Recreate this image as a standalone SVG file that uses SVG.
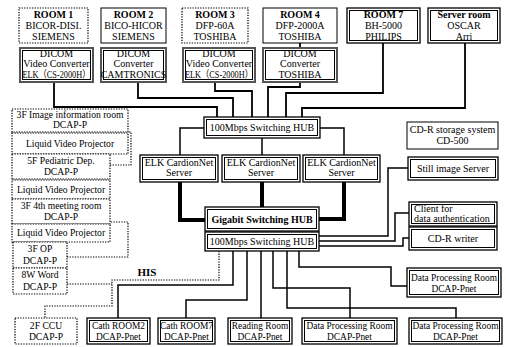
<svg xmlns="http://www.w3.org/2000/svg" width="506" height="347" viewBox="0 0 506 347">
<style>
text{font-family:"Liberation Serif","Noto Sans CJK JP",serif;font-size:10px;fill:#000;text-anchor:middle}
.b{font-weight:bold;font-size:10px}
.l{font-size:9.6px}
.m{font-size:9.4px}
.s{fill:#fff;stroke:#000;stroke-width:1}
.o{fill:#fff;stroke:#000;stroke-width:1.3}
.i{fill:none;stroke:#000;stroke-width:1}
.d{fill:#fff;stroke:#000;stroke-width:1.2;stroke-dasharray:1.3 1.3}
.c{fill:none;stroke:#000;stroke-width:1.8}
.t{fill:none;stroke:#000;stroke-width:4}
.h{fill:none;stroke:#000;stroke-width:1.2;stroke-dasharray:1.3 1.3}
</style>
<rect width="506" height="347" fill="#fff"/>
<g id="connectors">
<path class="c" d="M54,82V107H217V117M138,82V98H233V117M215,82V91H252V117M300,82V87H268V117M383,43V93H286V117M465,43V108H302V117M300,43V48"/>
<path class="c" style="stroke-width:1.5" d="M262,138V155M204,128H180V155M320,128H344V155"/>
<path class="t" d="M180,182V220H205M262,182V207M344,182V219H319"/>
<path class="c" style="stroke-width:1.5" d="M319,236H388V168H408M319,241H395V213H409M319,246H403V238H409"/>
<path class="c" style="stroke-width:1.5" d="M233,251V285H118V318M247,251V300H186V318M261,251V318M273,251V288H350V318M287,251V308H456V318M299,251V267H391V286H407"/>
<path class="h" d="M219,251V280H112V306H45V318M67,284H112M67,257H128V222H110M110,165H131V132H128"/>
</g>
<g id="room1"><rect class="d" x="19" y="8" width="69" height="35"/><text class="b" x="53.5" y="18">ROOM 1</text><text x="53.5" y="29">BICOR-DISI.</text><text x="53.5" y="40">SIEMENS</text></g>
<g id="room2"><rect class="s" x="101" y="8" width="65" height="35"/><text class="b" x="133.5" y="18">ROOM 2</text><text x="133.5" y="29">BICO-HICOR</text><text x="133.5" y="40">SIEMENS</text></g>
<g id="room3"><rect class="d" x="182" y="8" width="66" height="35"/><text class="b" x="215" y="18">ROOM 3</text><text x="215" y="29">DFP-60A</text><text x="215" y="40">TOSHIBA</text></g>
<g id="room4"><rect class="s" x="263" y="8" width="74" height="35"/><text class="b" x="300" y="18">ROOM 4</text><text x="300" y="29">DFP-2000A</text><text x="300" y="40">TOSHIBA</text></g>
<g id="room7"><rect class="o" x="347" y="8" width="73" height="35"/><rect class="i" x="349.5" y="10.5" width="68" height="30"/><text class="b" x="383.5" y="18">ROOM 7</text><text x="383.5" y="29">BH-5000</text><text x="383.5" y="40">PHILIPS</text></g>
<g id="server-room"><rect class="o" x="428" y="8" width="72" height="35"/><rect class="i" x="430.5" y="10.5" width="67" height="30"/><text class="b" x="464" y="18">Server room</text><text x="464" y="29">OSCAR</text><text x="464" y="40">Arri</text></g>
<g id="conv1"><rect class="o" x="20" y="48" width="73" height="34" style="stroke:#555;stroke-width:2"/><rect class="i" x="22.5" y="50.5" width="68" height="29"/><text x="56.5" y="57">DICOM</text><text x="56.5" y="67">Video Converter</text><text x="56.5" y="78" textLength="68" lengthAdjust="spacingAndGlyphs">ELK（CS-2000H）</text></g>
<g id="conv2"><rect class="o" x="101" y="48" width="65" height="34" style="stroke:#555;stroke-width:2"/><rect class="i" x="103.5" y="50.5" width="60" height="29"/><text x="133.5" y="57">DICOM</text><text x="133.5" y="67">Converter</text><text x="133.5" y="78">CAMTRONICS</text></g>
<g id="conv3"><rect class="o" x="183" y="48" width="72" height="34" style="stroke:#555;stroke-width:2"/><rect class="i" x="185.5" y="50.5" width="67" height="29"/><text x="219" y="57">DICOM</text><text x="219" y="67">Video Converter</text><text x="219" y="78" textLength="68" lengthAdjust="spacingAndGlyphs">ELK（CS-2000H）</text></g>
<g id="conv4"><rect class="o" x="263" y="48" width="74" height="34" style="stroke:#555;stroke-width:2"/><rect class="i" x="265.5" y="50.5" width="69" height="29"/><text x="300" y="57">DICOM</text><text x="300" y="67">Converter</text><text x="300" y="78">TOSHIBA</text></g>
<g id="hub100-top"><rect class="o" x="204" y="117" width="116" height="21"/><rect class="i" x="206.5" y="119.5" width="111" height="16"/><text x="262" y="131">100Mbps Switching HUB</text></g>
<g id="elk1"><rect class="o" x="140" y="155" width="78" height="27"/><rect class="i" x="142.5" y="157.5" width="73" height="22"/><text x="179" y="166">ELK CardionNet</text><text x="179" y="176">Server</text></g>
<g id="elk2"><rect class="o" x="222" y="155" width="78" height="27"/><rect class="i" x="224.5" y="157.5" width="73" height="22"/><text x="261" y="166">ELK CardionNet</text><text x="261" y="176">Server</text></g>
<g id="elk3"><rect class="o" x="303" y="155" width="77" height="27"/><rect class="i" x="305.5" y="157.5" width="72" height="22"/><text x="341.5" y="166">ELK CardionNet</text><text x="341.5" y="176">Server</text></g>
<g id="gigabit-hub"><rect class="o" x="205" y="207" width="114" height="24"/><rect class="i" x="207.5" y="209.5" width="109" height="19"/><text class="b" x="262" y="222.5">Gigabit Switching HUB</text></g>
<g id="hub100-bottom"><rect class="o" x="205" y="232" width="114" height="19"/><rect class="i" x="207.5" y="234.5" width="109" height="14"/><text x="262" y="245">100Mbps Switching HUB</text></g>
<g id="cdr-storage"><rect class="s" x="407" y="122" width="91" height="27"/><text x="452.5" y="133">CD-R storage system</text><text x="452.5" y="144">CD-500</text></g>
<g id="still-image"><rect class="o" x="408" y="157" width="90" height="23"/><rect class="i" x="410.5" y="159.5" width="85" height="18"/><text x="453" y="172">Still image Server</text></g>
<g id="client"><rect class="o" x="409" y="202" width="88" height="24"/><rect class="i" x="411.5" y="204.5" width="83" height="19"/><text x="414" y="212" style="text-anchor:start">Client for</text><text x="414" y="222" style="text-anchor:start">data authentication</text></g>
<g id="cdr-writer"><rect class="o" x="409" y="227" width="88" height="23"/><rect class="i" x="411.5" y="229.5" width="83" height="18"/><text x="453" y="242">CD-R writer</text></g>
<g id="dp-right"><rect class="o" x="407" y="268" width="94" height="29"/><rect class="i" x="409.5" y="270.5" width="89" height="24"/><text class="m" x="454" y="281">Data Processing Room</text><text class="m" x="454" y="292">DCAP-Pnet</text></g>
<g id="cath2"><rect class="o" x="87" y="318" width="63" height="26"/><rect class="i" x="89.5" y="320.5" width="58" height="21"/><text class="m" x="118.5" y="329">Cath ROOM2</text><text class="m" x="118.5" y="340">DCAP-Pnet</text></g>
<g id="cath7"><rect class="o" x="158" y="318" width="57" height="26"/><rect class="i" x="160.5" y="320.5" width="52" height="21"/><text class="m" x="186.5" y="329">Cath ROOM7</text><text class="m" x="186.5" y="340">DCAP-Pnet</text></g>
<g id="reading"><rect class="o" x="228" y="318" width="64" height="26"/><rect class="i" x="230.5" y="320.5" width="59" height="21"/><text class="m" x="260" y="329">Reading Room</text><text class="m" x="260" y="340">DCAP-Pnet</text></g>
<g id="dp1"><rect class="o" x="302" y="318" width="95" height="26"/><rect class="i" x="304.5" y="320.5" width="90" height="21"/><text class="m" x="349.5" y="329">Data Processing Room</text><text class="m" x="349.5" y="340">DCAP-Pnet</text></g>
<g id="dp2"><rect class="o" x="409" y="318" width="93" height="26"/><rect class="i" x="411.5" y="320.5" width="88" height="21"/><text class="m" x="455.5" y="329">Data Processing Room</text><text class="m" x="455.5" y="340">DCAP-Pnet</text></g>
<g id="img-info"><rect class="d" x="12" y="109" width="116" height="23"/><text class="l" x="70" y="118">3F Image information room</text><text class="l" x="70" y="128">DCAP-P</text></g>
<g id="lvp1"><rect class="d" x="12" y="133" width="116" height="21"/><text class="l" x="70" y="147">Liquid Video Projector</text></g>
<g id="ped"><rect class="d" x="12" y="154" width="98" height="25"/><text class="l" x="61" y="164">5F Pediatric Dep.</text><text class="l" x="61" y="175">DCAP-P</text></g>
<g id="lvp2"><rect class="d" x="12" y="180" width="98" height="19"/><text class="l" x="61" y="193">Liquid Video Projector</text></g>
<g id="meet"><rect class="d" x="12" y="199" width="98" height="25"/><text class="l" x="61" y="209">3F 4th meeting room</text><text class="l" x="61" y="220">DCAP-P</text></g>
<g id="lvp3"><rect class="d" x="12" y="224" width="98" height="18"/><text class="l" x="61" y="236">Liquid Video Projector</text></g>
<g id="op"><rect class="d" x="13" y="242" width="54" height="26"/><text class="l" x="40" y="252">3F OP</text><text class="l" x="40" y="264">DCAP-P</text></g>
<g id="word"><rect class="d" x="13" y="268" width="54" height="26"/><text class="l" x="40" y="278">8W Word</text><text class="l" x="40" y="290">DCAP-P</text></g>
<g id="ccu"><rect class="d" x="15" y="318" width="62" height="26"/><text class="l" x="46" y="329">2F  CCU</text><text class="l" x="46" y="340">DCAP-P</text></g>
<g id="his"><text class="b" x="147" y="276" style="font-size:11px">HIS</text></g>
</svg>
